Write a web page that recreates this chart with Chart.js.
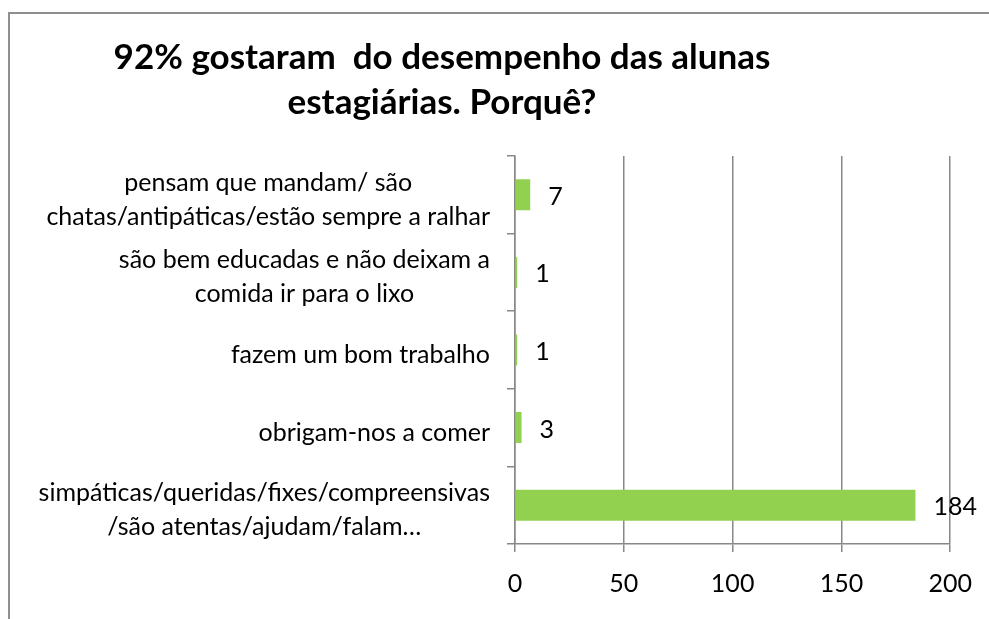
<!DOCTYPE html>
<html>
<head>
<meta charset="utf-8">
<script src="https://cdn.jsdelivr.net/npm/chart.js@4/dist/chart.umd.min.js"></script>
<style>
  html, body { margin: 0; padding: 0; background: #fff; overflow: hidden; width: 989px; height: 619px; }
  #frame { position: absolute; left: 8px; top: 12px; width: 1100px; height: 800px; border: 2px solid #8f8f8f; box-sizing: border-box; }
  #c { position: absolute; left: 0; top: 0; }
</style>
</head>
<body>
<div id="frame"></div>
<canvas id="c" width="989" height="619"></canvas>
<script>
const titleLines = ['92% gostaram  do desempenho das alunas', 'estagiárias. Porquê?'];
const categories = [
  ['pensam que mandam/ são', 'chatas/antipáticas/estão sempre a ralhar'],
  ['são bem educadas e não deixam a', 'comida ir para o lixo'],
  ['fazem um bom trabalho'],
  ['obrigam-nos a comer'],
  ['simpáticas/queridas/fixes/compreensivas', '/são atentas/ajudam/falam…']
];
const values = [7, 1, 1, 3, 184];
const xTicks = [0, 50, 100, 150, 200];

const FONT = 'Lato, "Open Sans", sans-serif';
const GRID = '#888888';

const titlePlugin = {
  id: 'customTitle',
  afterDraw(chart) {
    const ctx = chart.ctx;
    ctx.save();
    ctx.font = 'bold 35px ' + FONT;
    ctx.fillStyle = '#000';
    ctx.textAlign = 'center';
    ctx.textBaseline = 'middle';
    const ys = [58, 103];
    titleLines.forEach((t, i) => ctx.fillText(t, 442, ys[i]));
    ctx.restore();
  }
};

const catLabelPlugin = {
  id: 'catLabels',
  afterDraw(chart) {
    const ctx = chart.ctx;
    const ys = chart.scales.y;
    ctx.save();
    ctx.font = '25px ' + FONT;
    ctx.fillStyle = '#000';
    ctx.textAlign = 'center';
    ctx.textBaseline = 'middle';
    const lh = 34;
    const right = chart.chartArea.left - 25;
    categories.forEach((lines, i) => {
      const y = ys.getPixelForTick(i) + 5;
      const maxW = Math.max(...lines.map(l => ctx.measureText(l).width));
      const cx = right - maxW / 2;
      lines.forEach((l, j) => {
        ctx.fillText(l, cx, y + (j - (lines.length - 1) / 2) * lh);
      });
    });
    ctx.restore();
  }
};

const valueLabelPlugin = {
  id: 'valueLabels',
  afterDatasetsDraw(chart) {
    const ctx = chart.ctx;
    const meta = chart.getDatasetMeta(0);
    ctx.save();
    ctx.font = '25px ' + FONT;
    ctx.fillStyle = '#000';
    ctx.textAlign = 'left';
    ctx.textBaseline = 'middle';
    meta.data.forEach((el, i) => {
      ctx.fillText(String(values[i]), el.x + 18, el.y + 2);
    });
    ctx.restore();
  }
};

new Chart(document.getElementById('c'), {
  type: 'bar',
  data: {
    labels: categories,
    datasets: [{
      data: values,
      backgroundColor: '#92D050',
      borderWidth: 0,
      barPercentage: 0.4,
      categoryPercentage: 1.0
    }]
  },
  options: {
    indexAxis: 'y',
    responsive: false,
    animation: false,
    devicePixelRatio: 1,
    layout: { padding: { left: 0, right: 37, top: 156, bottom: 0 } },
    plugins: {
      legend: { display: false },
      title: { display: false },
      tooltip: { enabled: false }
    },
    scales: {
      x: {
        type: 'linear',
        min: xTicks[0],
        max: xTicks[xTicks.length - 1],
        afterBuildTicks(scale) { scale.ticks = xTicks.map(v => ({ value: v })); },
        afterFit(scale) { scale.height = 619 - 544; },
        grid: { color: GRID, lineWidth: 1.5, drawOnChartArea: true, drawTicks: true, tickLength: 8 },
        border: { display: true, color: GRID, width: 1.5 },
        ticks: { color: '#000', font: { family: FONT, size: 25 }, padding: 17, maxRotation: 0 }
      },
      y: {
        type: 'category',
        offset: true,
        afterFit(scale) { scale.width = 515; },
        grid: { color: GRID, lineWidth: 1.5, offset: true, drawOnChartArea: false, drawTicks: true, tickLength: 8 },
        border: { display: true, color: GRID, width: 1.5 },
        ticks: { display: false }
      }
    }
  },
  plugins: [titlePlugin, catLabelPlugin, valueLabelPlugin]
});
</script>
</body>
</html>
